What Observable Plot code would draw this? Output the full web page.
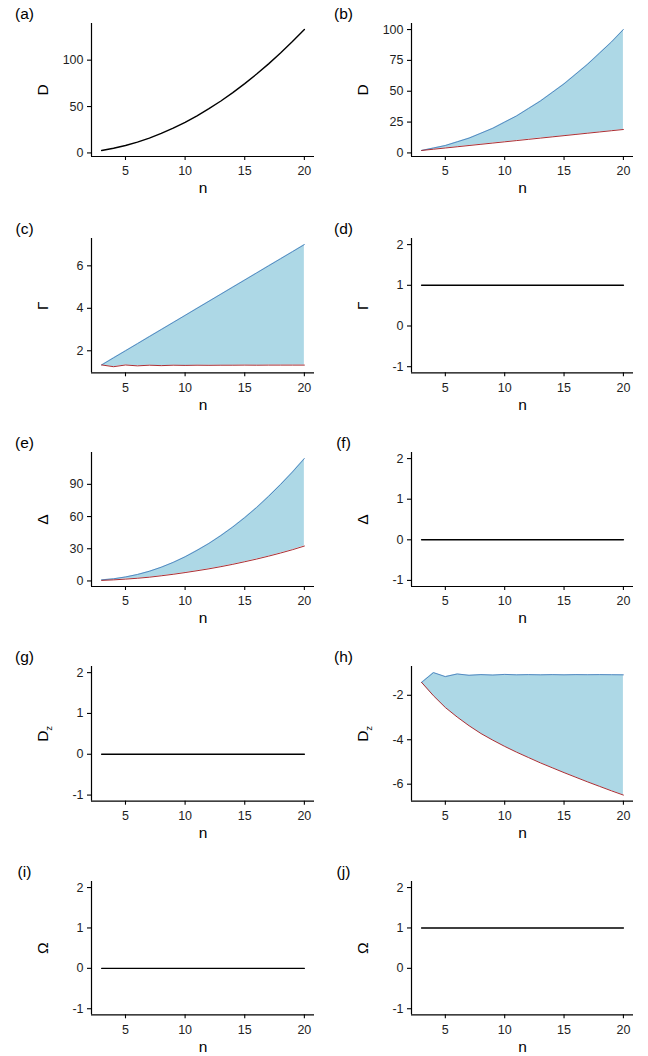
<!DOCTYPE html>
<html>
<head>
<meta charset="utf-8">
<script src="https://cdn.jsdelivr.net/npm/d3@7"></script>
<script src="https://cdn.jsdelivr.net/npm/@observablehq/plot@0.6"></script>
<style>
  html, body { margin: 0; padding: 0; background: #fff; }
  #fig { position: relative; width: 648px; height: 1056px; overflow: hidden; background: #fff; }
  #fig svg { position: absolute; overflow: visible; }
</style>
</head>
<body>
<div id="fig"></div>
<script>
// ---------- data ----------
const n = [3, 4, 5, 6, 7, 8, 9, 10, 11, 12, 13, 14, 15, 16, 17, 18, 19, 20];
const xTicks = [5, 10, 15, 20];
const fixedLimits = [-1, 2];
const fixedTicks = [-1, 0, 1, 2];

// (a) D
const dA = [2.67, 5, 8, 11.67, 16, 21, 26.67, 33, 40, 47.67, 56, 65, 74.67, 85, 96, 107.67, 120, 133];
// (b) D range
const dBLow = [2, 3, 4, 5, 6, 7, 8, 9, 10, 11, 12, 13, 14, 15, 16, 17, 18, 19];
const dBHigh = [2, 4, 6, 9, 12, 16, 20, 25, 30, 36, 42, 49, 56, 64, 72, 81, 90, 100];
// (c) Gamma range
const gCLow = [1.333, 1.25, 1.33, 1.29, 1.32, 1.30, 1.32, 1.31, 1.32, 1.315, 1.32, 1.32, 1.325, 1.32, 1.325, 1.325, 1.325, 1.325];
const gCHigh = [1.333, 1.667, 2, 2.333, 2.667, 3, 3.333, 3.667, 4, 4.333, 4.667, 5, 5.333, 5.667, 6, 6.333, 6.667, 7];
// (d) Gamma
const gD = [1, 1, 1, 1, 1, 1, 1, 1, 1, 1, 1, 1, 1, 1, 1, 1, 1, 1];
// (e) Delta range
const eLow = [0.5, 1, 1.7, 2.5, 3.5, 4.8, 6.2, 7.8, 9.5, 11.3, 13.3, 15.5, 17.9, 20.4, 23.1, 26, 29.1, 32.5];
const eHigh = [1, 2, 3.7, 6, 9, 12.8, 17.3, 22.5, 28.5, 35, 42.3, 50.3, 59, 68.5, 78.8, 89.8, 101.5, 114];
// (f) Delta
const fD = [0, 0, 0, 0, 0, 0, 0, 0, 0, 0, 0, 0, 0, 0, 0, 0, 0, 0];
// (g) Dz
const gDz = [0, 0, 0, 0, 0, 0, 0, 0, 0, 0, 0, 0, 0, 0, 0, 0, 0, 0];
// (h) Dz range
const hLow = [-1.42, -2.02, -2.55, -2.98, -3.37, -3.72, -4.02, -4.3, -4.56, -4.8, -5.04, -5.26, -5.48, -5.69, -5.9, -6.1, -6.3, -6.49];
const hHigh = [-1.42, -0.98, -1.16, -1.04, -1.10, -1.07, -1.09, -1.06, -1.08, -1.07, -1.08, -1.07, -1.08, -1.07, -1.075, -1.07, -1.075, -1.08];
// (i) Omega
const iO = [0, 0, 0, 0, 0, 0, 0, 0, 0, 0, 0, 0, 0, 0, 0, 0, 0, 0];
// (j) Omega
const jO = [1, 1, 1, 1, 1, 1, 1, 1, 1, 1, 1, 1, 1, 1, 1, 1, 1, 1];

const panels = [
  {tag: "(a)", row: 0, col: 0, ylab: "D", ticks: [0, 50, 100], line: dA},
  {tag: "(b)", row: 0, col: 1, ylab: "D", ticks: [0, 25, 50, 75, 100], lo: dBLow, hi: dBHigh},
  {tag: "(c)", row: 1, col: 0, ylab: "Γ", ticks: [2, 4, 6], lo: gCLow, hi: gCHigh},
  {tag: "(d)", row: 1, col: 1, ylab: "Γ", ticks: fixedTicks, limits: fixedLimits, line: gD},
  {tag: "(e)", row: 2, col: 0, ylab: "Δ", ticks: [0, 30, 60, 90], lo: eLow, hi: eHigh},
  {tag: "(f)", row: 2, col: 1, ylab: "Δ", ticks: fixedTicks, limits: fixedLimits, line: fD},
  {tag: "(g)", row: 3, col: 0, ylab: "Dz", ticks: fixedTicks, limits: fixedLimits, line: gDz},
  {tag: "(h)", row: 3, col: 1, ylab: "Dz", ticks: [-6, -4, -2], lo: hLow, hi: hHigh},
  {tag: "(i)", row: 4, col: 0, ylab: "Ω", ticks: fixedTicks, limits: fixedLimits, line: iO},
  {tag: "(j)", row: 4, col: 1, ylab: "Ω", ticks: fixedTicks, limits: fixedLimits, line: jO}
];

// ---------- layout ----------
const W = 324, H = 214, TOP = 23;
const frameTop = [23, 237.5, 451.7, 665.8, 880.7];
const frameBottom = [156, 371.8, 585.7, 800.5, 1014];
const colLeft = [91, 411];
const colRight = [314, 633];
const tagX = [24, 343];
const font = "'Liberation Sans', Arial, Helvetica, sans-serif";

function expand([a, b]) { const d = (b - a) * 0.05; return [a - d, b + d]; }
const xDomain = expand(d3.extent(n));

const fig = document.getElementById("fig");

for (const p of panels) {
  const rows = n.map((v, i) => ({
    n: v,
    y: p.line ? p.line[i] : null,
    lo: p.lo ? p.lo[i] : null,
    hi: p.hi ? p.hi[i] : null
  }));
  const yDomain = p.limits ? expand(p.limits)
    : p.line ? expand(d3.extent(p.line))
    : expand([d3.min(p.lo), d3.max(p.hi)]);

  const svgTop = frameTop[p.row] - TOP;
  const svgLeft = p.col * W;
  const marginLeft = colLeft[p.col] - svgLeft;
  const marginRight = svgLeft + W - colRight[p.col];
  const marginBottom = H - (frameBottom[p.row] - svgTop);

  const marks = [];
  if (p.line) {
    marks.push(Plot.lineY(rows, {x: "n", y: "y", stroke: "black", strokeWidth: 1.4}));
  } else {
    marks.push(Plot.areaY(rows, {x: "n", y1: "lo", y2: "hi", fill: "#ADD8E6"}));
    marks.push(Plot.lineY(rows, {x: "n", y: "hi", stroke: "#4a80bd", strokeWidth: 0.9}));
    marks.push(Plot.lineY(rows, {x: "n", y: "lo", stroke: "#a3161c", strokeWidth: 0.9}));
  }
  marks.push(
    Plot.ruleX([xDomain[0]], {stroke: "black", strokeWidth: 1.2}),
    Plot.ruleY([yDomain[0]], {stroke: "black", strokeWidth: 1.2}),
    Plot.axisX({ticks: xTicks, tickSize: 4, tickPadding: 6, tickFormat: d => String(d),
                stroke: "black", strokeWidth: 1.1, fill: "#1e1e1e", fontSize: 12.5, label: null}),
    Plot.axisY({ticks: p.ticks, tickSize: 4, tickPadding: 4, tickFormat: d => String(d),
                stroke: "black", strokeWidth: 1.1, fill: "#1e1e1e", fontSize: 12.5, label: null}),
    Plot.text(["n"], {frameAnchor: "bottom", text: d => d, dy: 32, lineAnchor: "middle",
                      textAnchor: "middle", fontSize: 15.5, fill: "black"}),
    Plot.text([p.ylab], {frameAnchor: "left", text: d => d, dx: -48, rotate: -90, lineAnchor: "middle",
                         textAnchor: "middle", fontSize: 15.5, fill: "black"}),
    Plot.text([p.tag], {frameAnchor: "top-left", text: d => d, dx: tagX[p.col] - colLeft[p.col], dy: -9,
                        lineAnchor: "middle", textAnchor: "middle", fontSize: 15.5, fill: "black"})
  );

  const svg = Plot.plot({
    width: W,
    height: H,
    marginTop: TOP,
    marginBottom,
    marginLeft,
    marginRight,
    x: {domain: xDomain, axis: null},
    y: {domain: yDomain, axis: null},
    style: {fontFamily: font, fontSize: "12.5px", background: "transparent", overflow: "visible"},
    marks
  });
  svg.style.left = svgLeft + "px";
  svg.style.top = svgTop + "px";

  // subscript for D_z
  if (p.ylab === "Dz") {
    svg.querySelectorAll("text").forEach(t => {
      if (t.textContent === "Dz") {
        t.textContent = "D";
        const ts = document.createElementNS("http://www.w3.org/2000/svg", "tspan");
        ts.setAttribute("font-size", "0.62em");
        ts.setAttribute("dy", "0.4em");
        ts.textContent = "z";
        t.appendChild(ts);
      }
    });
  }
  fig.appendChild(svg);
}
</script>
</body>
</html>
